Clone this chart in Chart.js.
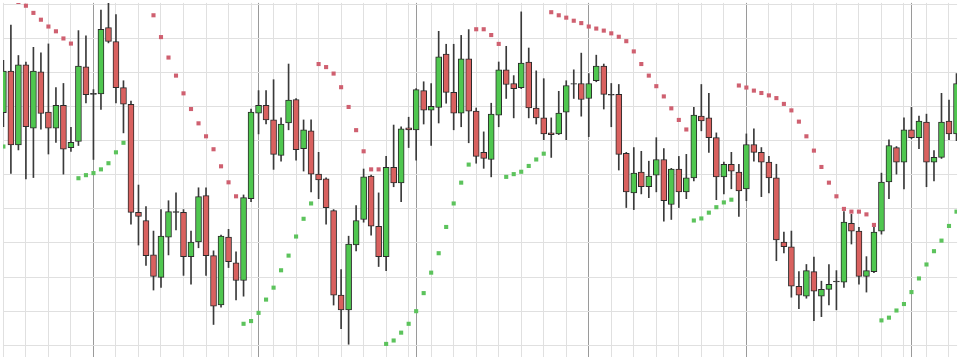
<!DOCTYPE html>
<html><head><meta charset="utf-8">
<script src="https://cdn.jsdelivr.net/npm/chart.js@4/dist/chart.umd.min.js"></script>
<style>html,body{margin:0;padding:0;background:#fff;overflow:hidden}</style>
</head><body>
<canvas id="c" width="960" height="360" style="display:block;width:960px;height:360px"></canvas>
<script>
const openP = [68.2,80.4,58.8,82.3,63.7,80.2,68.4,63.7,70.4,58.0,
59.8,81.7,73.9,73.7,93.2,89.1,75.6,70.7,39.0,36.6,
26.5,19.9,31.7,39.2,39.0,26.0,30.3,43.9,26.3,11.8,
31.7,24.2,19.0,43.0,68.1,70.4,66.1,55.7,65.2,72.1,
57.7,62.9,50.2,48.8,39.5,14.7,10.4,29.4,36.9,49.6,
34.9,26.0,52.2,47.6,63.8,63.2,74.7,69.0,69.8,85.4,
74.2,68.1,84.0,68.7,56.6,54.5,67.5,80.8,76.8,75.6,
83.1,69.6,66.7,62.3,62.0,68.4,76.6,76.8,72.4,77.6,
81.9,73.6,73.6,56.3,44.7,50.8,46.5,49.9,54.5,41.3,
51.7,45.0,49.1,67.2,66.7,60.9,49.4,53.1,50.8,45.9,
58.9,56.6,53.7,49.1,30.3,28.9,17.3,14.4,21.6,14.4,
16.4,18.8,18.5,35.8,33.5,20.2,21.6,33.5,47.9,58.0,
53.7,63.2,60.9,65.5,53.7,55.1,65.8,62.0];
const highP = [83.6,93.9,85.0,83.1,87.4,85.8,88.4,75.6,76.8,63.9,
92.3,90.8,75.0,98.3,101.0,97.0,77.6,71.6,47.0,40.7,
33.5,39.8,42.4,44.7,39.8,33.5,46.2,46.2,27.7,32.3,
34.0,27.4,44.1,69.3,74.7,74.7,77.9,66.7,82.5,72.4,
66.1,66.1,56.6,49.1,39.8,22.2,32.0,41.0,51.7,49.9,
44.7,55.4,64.6,64.1,66.9,75.3,77.3,76.8,92.1,88.3,
88.3,90.9,92.6,69.6,62.6,71.0,83.1,87.7,79.1,97.8,
87.2,80.5,78.2,66.7,74.5,77.6,80.8,85.7,79.7,85.1,
82.5,76.8,76.5,56.6,58.0,56.9,54.0,60.9,57.7,51.9,
55.4,56.0,69.8,76.5,73.9,62.3,53.7,56.6,53.1,62.0,
63.5,58.0,55.4,53.1,33.2,33.5,21.6,23.7,25.9,18.8,
23.7,21.9,39.2,38.4,34.6,26.0,34.6,50.5,60.3,58.3,
66.7,69.8,67.2,67.8,57.1,73.9,71.9,79.7];
const lowP = [64.1,50.4,57.3,48.8,49.2,63.4,56.1,59.5,50.2,56.9,
58.6,71.1,54.5,69.2,88.7,71.1,62.3,35.5,29.4,23.4,
16.2,17.0,26.5,33.8,20.5,17.9,28.6,20.5,6.1,11.2,
22.8,13.3,14.4,42.1,62.0,64.9,51.6,54.0,63.2,54.3,
51.1,45.0,43.0,35.5,11.8,4.9,0.3,27.7,36.1,32.3,
23.1,21.9,46.5,42.1,58.0,54.3,64.9,58.6,65.2,71.0,
63.2,64.1,59.4,53.4,51.9,49.4,64.1,72.4,66.7,75.3,
66.7,64.9,60.3,55.1,61.8,60.3,72.4,67.2,61.2,77.3,
69.3,64.1,51.4,40.4,39.8,44.4,43.3,45.0,36.4,36.9,
40.4,43.0,48.2,62.9,56.6,42.7,44.4,45.9,37.8,42.4,
54.0,43.6,44.7,24.8,27.1,14.1,10.7,13.8,7.2,8.4,
11.8,10.4,17.0,29.7,17.9,15.6,21.3,32.6,43.0,50.2,
45.9,60.6,57.7,46.5,48.2,54.8,60.3,60.0];
const closeP = [80.4,58.8,82.3,64.1,80.4,68.0,63.7,70.4,57.5,59.5,
81.9,73.5,73.6,92.7,89.1,75.6,70.7,39.0,37.8,26.3,
20.2,32.0,39.2,39.0,26.0,30.3,43.6,26.3,11.5,32.0,
24.5,19.0,43.3,68.4,70.4,66.1,56.0,64.9,71.9,57.4,
63.2,50.2,48.5,40.4,14.7,10.4,29.7,36.6,49.4,34.9,
26.0,52.2,47.6,63.5,63.2,75.0,69.0,70.1,84.6,74.2,
68.1,84.0,68.7,55.4,54.8,67.8,80.8,76.5,75.3,82.8,
69.6,66.7,62.0,61.8,68.1,76.2,76.8,72.1,76.8,81.9,
73.6,73.4,56.0,45.0,50.5,46.5,49.6,54.5,42.4,51.7,
45.0,49.1,67.5,65.8,60.9,49.4,53.1,51.1,45.3,58.9,
56.6,53.7,49.1,30.9,28.9,17.3,14.7,21.9,15.9,16.4,
17.9,18.6,36.1,33.5,20.2,21.9,33.2,47.9,58.6,53.7,
63.2,60.9,65.8,53.7,55.1,65.5,62.0,76.8];
const sarP = [58.3,null,100.7,99.6,97.5,95.5,93.5,92.1,90.0,88.5,
49.0,49.9,50.5,51.6,53.4,56.6,59.4,null,null,null,
96.8,90.4,84.4,79.1,73.9,69.3,65.1,61.3,57.5,52.5,
47.8,43.7,6.3,7.1,9.5,13.4,16.9,22.0,26.3,31.9,
37.1,41.6,82.5,81.6,79.7,75.7,69.9,63.1,56.9,51.6,
51.6,0.4,1.4,3.7,6.3,10.0,15.3,21.3,27.0,34.7,
41.6,47.7,53.0,92.7,92.7,91.0,88.4,49.4,50.2,50.9,
52.6,54.5,56.2,97.7,96.8,96.1,95.2,94.5,93.5,92.9,
92.3,91.5,90.5,89.2,86.2,82.5,79.1,76.0,73.0,69.5,
66.1,63.3,36.6,37.2,38.9,40.5,41.9,42.7,76.2,75.6,
74.7,74.0,73.3,72.5,70.8,68.9,65.6,61.3,57.1,52.3,
47.7,43.7,40.0,39.2,39.2,38.4,35.3,7.3,8.1,10.2,
12.1,15.6,19.6,23.7,27.6,30.7,35.0,39.2];
const sessionBreaks = [12,34,55,78,99,121];
const priceGrid = [0,10,20,30,40,50,60,70,80,90,100];

const UP = '#4fc74f', DOWN = '#d9615f', DOJI = '#333333';
const SAR_UP = '#5cc35c', SAR_DOWN = '#cf6070';
const GRID = '#e0e0e0', BREAK = '#9a9a9a';

const idx = openP.map((_, i) => i);
const xGrid = Array.from(new Set(idx.filter(i => i % 3 === 0).concat(sessionBreaks))).sort((a, b) => a - b);
const xGridColors = xGrid.map(v => sessionBreaks.includes(v) ? BREAK : GRID);

const wickData = idx.map(i => ({x: i, y: [lowP[i], highP[i]]}));
const bodyData = idx.map(i => ({x: i, y: [openP[i], closeP[i]]}));
const bodyColors = idx.map(i => {
  const d = closeP[i] - openP[i];
  if (Math.abs(d) < 0.4) return DOJI;
  return d > 0 ? UP : DOWN;
});
const sarData = idx.map(i => ({x: i, y: sarP[i]}));
const sarColors = idx.map(i => (sarP[i] !== null && sarP[i] > closeP[i]) ? SAR_DOWN : SAR_UP);

new Chart(document.getElementById('c'), {
  data: {
    datasets: [
      { type: 'line', data: sarData, showLine: false, pointStyle: 'rect',
        pointRadius: 2.9, pointBorderWidth: 0, pointBackgroundColor: sarColors,
        pointHoverRadius: 2.9, order: 2 },
      { type: 'bar', data: wickData, grouped: false, barThickness: 1,
        backgroundColor: '#3a3a3a', borderWidth: 0, order: 1 },
      { type: 'bar', data: bodyData, grouped: false, barThickness: 6,
        backgroundColor: bodyColors, borderColor: '#2b2b2b', borderWidth: 1,
        borderSkipped: false, order: 0 }
    ]
  },
  options: {
    responsive: false, animation: false, devicePixelRatio: 1,
    layout: { padding: 0 },
    plugins: { legend: { display: false }, tooltip: { enabled: false } },
    scales: {
      x: { type: 'linear', offset: false, min: -0.066, max: 127.08,
        ticks: { display: false }, border: { display: false },
        afterBuildTicks: s => { s.ticks = xGrid.map(v => ({value: v})); },
        grid: { offset: false, drawTicks: false, lineWidth: 1, color: xGridColors } },
      y: { type: 'linear', min: -3.47, max: 100.43,
        ticks: { display: false }, border: { display: false },
        afterBuildTicks: s => { s.ticks = priceGrid.map(v => ({value: v})); },
        grid: { offset: false, drawTicks: false, lineWidth: 1, color: GRID } }
    }
  }
});
</script>
</body></html>
